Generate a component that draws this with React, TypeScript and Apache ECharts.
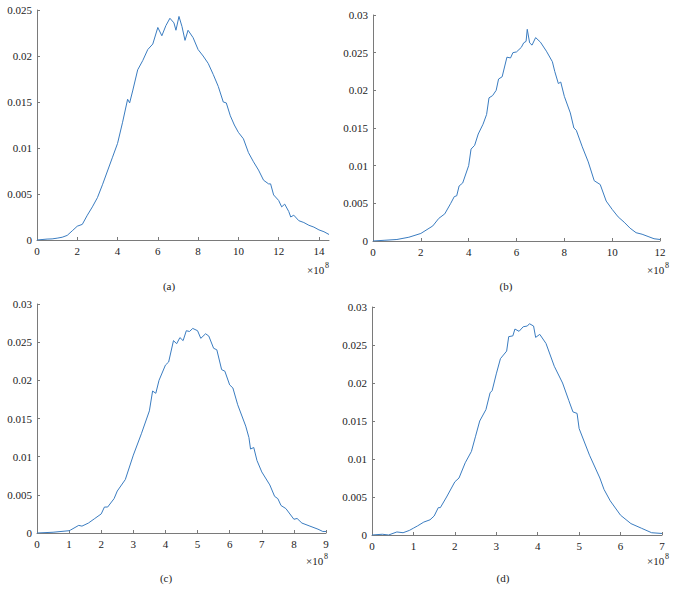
import React, { useEffect, useRef } from "react";
import * as echarts from "echarts";

// Panel (a): x in units of 1e8
const aX = [0, 0.25, 0.5, 0.75, 1, 1.25, 1.5, 1.75, 2, 2.25, 2.5, 2.75, 3, 3.25, 3.5, 3.75, 4, 4.25, 4.5, 4.6, 4.75, 5, 5.25, 5.5, 5.75, 6, 6.2, 6.4, 6.6, 6.8, 6.9, 7.05, 7.2, 7.35, 7.5, 7.75, 8, 8.25, 8.5, 8.75, 9, 9.25, 9.4, 9.6, 9.8, 10, 10.25, 10.5, 10.75, 11, 11.25, 11.5, 11.6, 11.75, 12, 12.15, 12.3, 12.5, 12.6, 12.75, 13, 13.25, 13.5, 13.75, 14, 14.25, 14.5];
const aY = [0, 0.00005, 0.0001, 0.00012, 0.0002, 0.0003, 0.0005, 0.001, 0.0015, 0.0017, 0.0027, 0.0036, 0.0046, 0.006, 0.0075, 0.009, 0.0105, 0.0128, 0.0153, 0.0149, 0.0162, 0.0185, 0.0195, 0.0207, 0.0213, 0.0231, 0.0222, 0.0233, 0.0241, 0.0236, 0.0228, 0.0243, 0.0232, 0.0217, 0.0228, 0.022, 0.0207, 0.02, 0.0192, 0.018, 0.0167, 0.015, 0.0149, 0.0135, 0.0125, 0.0117, 0.011, 0.0095, 0.0085, 0.0076, 0.0065, 0.0061, 0.0061, 0.0049, 0.0043, 0.0036, 0.0039, 0.0031, 0.0025, 0.0027, 0.0021, 0.0019, 0.0016, 0.0014, 0.0011, 0.0009, 0.0006];

// Panel (b)
const bX = [0, 0.5, 1, 1.5, 2, 2.5, 2.75, 3, 3.25, 3.4, 3.5, 3.6, 3.75, 4, 4.1, 4.25, 4.4, 4.6, 4.75, 4.85, 5, 5.15, 5.25, 5.4, 5.6, 5.75, 5.85, 6, 6.2, 6.3, 6.4, 6.45, 6.55, 6.65, 6.8, 7, 7.25, 7.5, 7.6, 7.75, 7.85, 8, 8.25, 8.4, 8.5, 8.75, 9, 9.25, 9.5, 9.75, 10, 10.25, 10.5, 10.75, 11, 11.25, 11.5, 11.75, 12];
const bY = [0, 0.0001, 0.0002, 0.0005, 0.001, 0.002, 0.003, 0.0036, 0.005, 0.0059, 0.006, 0.0073, 0.0077, 0.01, 0.0122, 0.0127, 0.0142, 0.0155, 0.0168, 0.019, 0.0193, 0.02, 0.0215, 0.0218, 0.0244, 0.0243, 0.025, 0.0251, 0.0257, 0.0263, 0.0265, 0.0281, 0.0263, 0.026, 0.027, 0.0264, 0.0252, 0.0238, 0.0225, 0.0209, 0.0211, 0.0192, 0.017, 0.015, 0.0147, 0.0125, 0.0105, 0.008, 0.0075, 0.0053, 0.0042, 0.0032, 0.0025, 0.0017, 0.0011, 0.0009, 0.0006, 0.0003, 0.0002];

// Panel (c)
const cX = [0, 0.5, 1, 1.05, 1.3, 1.4, 1.6, 1.8, 2, 2.1, 2.2, 2.4, 2.5, 2.75, 3, 3.25, 3.5, 3.6, 3.7, 3.8, 4, 4.1, 4.25, 4.35, 4.45, 4.55, 4.65, 4.75, 4.85, 5, 5.1, 5.25, 5.35, 5.5, 5.6, 5.75, 5.85, 6, 6.1, 6.25, 6.5, 6.6, 6.65, 6.75, 6.85, 7, 7.25, 7.4, 7.5, 7.6, 7.75, 8, 8.1, 8.25, 8.5, 8.75, 8.9, 9];
const cY = [0, 0.0001, 0.0003, 0.0004, 0.001, 0.0009, 0.0013, 0.0019, 0.0025, 0.0034, 0.0034, 0.0045, 0.0055, 0.007, 0.0102, 0.013, 0.016, 0.0186, 0.0183, 0.02, 0.022, 0.0224, 0.0252, 0.0248, 0.0256, 0.0252, 0.0265, 0.0264, 0.0268, 0.0265, 0.0255, 0.0261, 0.0258, 0.0242, 0.024, 0.0214, 0.0212, 0.0194, 0.019, 0.0168, 0.014, 0.0125, 0.011, 0.0112, 0.0095, 0.008, 0.0063, 0.0048, 0.0045, 0.0036, 0.0032, 0.0018, 0.0019, 0.0013, 0.0009, 0.0005, 0.0002, 0.0002];

// Panel (d)
const dX = [0, 0.25, 0.4, 0.6, 0.75, 0.9, 1, 1.1, 1.25, 1.4, 1.5, 1.6, 1.65, 1.8, 2, 2.1, 2.25, 2.4, 2.5, 2.6, 2.75, 2.85, 2.9, 3, 3.1, 3.25, 3.3, 3.4, 3.45, 3.55, 3.65, 3.75, 3.8, 3.9, 3.95, 4.05, 4.2, 4.4, 4.6, 4.75, 4.85, 4.95, 5, 5.25, 5.5, 5.6, 5.75, 6, 6.25, 6.5, 6.75, 7];
const dY = [0, 0.0001, 0, 0.0004, 0.0003, 0.0006, 0.0009, 0.0012, 0.0017, 0.002, 0.0025, 0.0036, 0.0036, 0.005, 0.007, 0.0075, 0.0095, 0.011, 0.013, 0.015, 0.0165, 0.0187, 0.019, 0.0212, 0.0232, 0.0242, 0.0261, 0.0262, 0.0271, 0.0268, 0.0274, 0.0275, 0.0278, 0.0275, 0.026, 0.0264, 0.0252, 0.0222, 0.02, 0.0177, 0.0162, 0.016, 0.014, 0.0105, 0.0075, 0.006, 0.0045, 0.0026, 0.0015, 0.0009, 0.0003, 0.0002];

const xMaxes = [14.5, 12, 9, 7];
const xTicks = [
  [0, 2, 4, 6, 8, 10, 12, 14],
  [0, 2, 4, 6, 8, 10, 12],
  [0, 1, 2, 3, 4, 5, 6, 7, 8, 9],
  [0, 1, 2, 3, 4, 5, 6, 7],
];
const yMaxes = [0.025, 0.03, 0.03, 0.03];
const panelLabels = ["(a)", "(b)", "(c)", "(d)"];
const scaleBase = "×10";
const scaleExp = "8";

const FONT = "serif";
const AXIS_COLOR = "#7a7a7a";
const TEXT_COLOR = "#222222";
const LINE_COLOR = "#3a7cc0";

export default function App() {
  const ref = useRef<HTMLDivElement>(null);

  useEffect(() => {
    if (!ref.current) return;
    const chart = echarts.init(ref.current, null, { renderer: "svg" });

    const grids = [
      { left: 37, top: 10, width: 292, height: 230 },
      { left: 373, top: 15, width: 287, height: 226 },
      { left: 37, top: 304, width: 289, height: 229 },
      { left: 372, top: 307, width: 290, height: 228 },
    ];
    const xs = [aX, bX, cX, dX];
    const ys = [aY, bY, cY, dY];

    const xAxis = grids.map((_, i) => ({
      type: "value",
      gridIndex: i,
      min: 0,
      max: xMaxes[i],
      splitLine: { show: false },
      axisLine: { show: true, lineStyle: { color: AXIS_COLOR, width: 1 } },
      axisTick: {
        show: true,
        inside: true,
        length: 3,
        lineStyle: { color: AXIS_COLOR },
        customValues: xTicks[i],
      },
      axisLabel: {
        color: TEXT_COLOR,
        fontFamily: FONT,
        fontSize: 11,
        margin: 5,
        customValues: xTicks[i],
        formatter: (v: number) => String(v),
      },
    }));

    const yAxis = grids.map((_, i) => ({
      type: "value",
      gridIndex: i,
      min: 0,
      max: yMaxes[i],
      interval: 0.005,
      splitLine: { show: false },
      axisLine: { show: true, lineStyle: { color: AXIS_COLOR, width: 1 } },
      axisTick: {
        show: true,
        inside: true,
        length: 3,
        lineStyle: { color: AXIS_COLOR },
      },
      axisLabel: {
        color: TEXT_COLOR,
        fontFamily: FONT,
        fontSize: 11,
        margin: 5,
        formatter: (v: number) => String(+v.toFixed(3)),
      },
    }));

    const series = grids.map((_, i) => ({
      type: "line",
      xAxisIndex: i,
      yAxisIndex: i,
      showSymbol: false,
      symbol: "none",
      data: xs[i].map((x, k) => [x, ys[i][k]]),
      lineStyle: { color: LINE_COLOR, width: 1 },
    }));

    const scalePos = [
      { x: 307, y: 270 },
      { x: 647, y: 270 },
      { x: 306, y: 561 },
      { x: 647, y: 561 },
    ];
    const labelPos = [
      { x: 169, y: 286 },
      { x: 506, y: 286 },
      { x: 166, y: 578 },
      { x: 503, y: 578 },
    ];

    const graphic: any[] = [];
    scalePos.forEach((p) => {
      graphic.push({
        type: "text",
        x: p.x,
        y: p.y,
        style: {
          text: scaleBase,
          fill: TEXT_COLOR,
          fontFamily: FONT,
          fontSize: 11,
          verticalAlign: "middle",
        },
      });
      graphic.push({
        type: "text",
        x: p.x + 18,
        y: p.y - 5,
        style: {
          text: scaleExp,
          fill: TEXT_COLOR,
          fontFamily: FONT,
          fontSize: 8,
          verticalAlign: "middle",
        },
      });
    });
    labelPos.forEach((p, i) => {
      graphic.push({
        type: "text",
        x: p.x,
        y: p.y,
        style: {
          text: panelLabels[i],
          fill: TEXT_COLOR,
          fontFamily: FONT,
          fontSize: 11,
          align: "center",
          verticalAlign: "middle",
        },
      });
    });

    chart.setOption({
      animation: false,
      backgroundColor: "#ffffff",
      grid: grids,
      xAxis,
      yAxis,
      series,
      graphic,
    });

    return () => chart.dispose();
  }, []);

  return (
    <div
      ref={ref}
      style={{ position: "fixed", left: 0, top: 0, width: 674, height: 599 }}
    />
  );
}
